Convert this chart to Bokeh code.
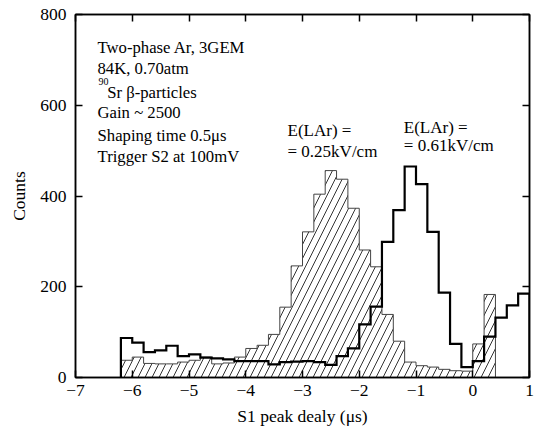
from bokeh.plotting import figure
from bokeh.models import LinearAxis, FixedTicker, Range1d
from bokeh.core.properties import value
from bokeh.embed import file_html
from bokeh.resources import INLINE

# ---- data ----
bin_start = -6.2
bin_width = 0.2
# E(LAr)=0.25 kV/cm (hatched histogram), bins from -6.2 to 0.4 us
hatched_counts = [38, 45, 31, 30, 30, 34, 38, 45, 30, 32,
                  45, 64, 71, 95, 155, 246, 321, 404, 456, 437,
                  373, 281, 244, 139, 80, 34, 26, 23, 18, 15,
                  14, 74, 183]
# E(LAr)=0.61 kV/cm (bold line histogram), bins from -6.2 to 1.0 us
bold_counts = [87, 77, 56, 60, 70, 47, 51, 44, 42, 40,
               36, 36, 36, 29, 34, 35, 36, 34, 28, 47,
               64, 117, 156, 299, 369, 465, 426, 321, 187, 74,
               23, 36, 90, 132, 159, 185]
x_ticks = [-7, -6, -5, -4, -3, -2, -1, 0, 1]
y_ticks = [0, 200, 400, 600, 800]

info_lines = ["Two-phase Ar, 3GEM", "84K, 0.70atm", "Sr \u03b2-particles",
              "Gain ~ 2500", "Shaping time 0.5\u03bcs", "Trigger S2 at 100mV"]
field_labels = ["E(LAr) =", "= 0.25kV/cm", "E(LAr) =", "= 0.61kV/cm"]


def step_path(counts):
    xs, ys = [bin_start], [0]
    r = bin_start
    for i, c in enumerate(counts):
        l = round(bin_start + i * bin_width, 6)
        r = round(l + bin_width, 6)
        xs += [l, r]
        ys += [c, c]
    xs.append(r)
    ys.append(0)
    return xs, ys


FONT = "Liberation Serif"

p = figure(width=536, height=430, x_range=Range1d(-7, 1), y_range=Range1d(0, 800),
           output_backend="svg", toolbar_location=None,
           min_border_left=75, min_border_right=7, min_border_top=14, min_border_bottom=53)
p.xgrid.visible = False
p.ygrid.visible = False
p.outline_line_color = "black"
p.outline_line_width = 1.5
p.background_fill_color = "white"

top_axis = LinearAxis(ticker=FixedTicker(ticks=x_ticks),
                      major_label_overrides={t: "" for t in x_ticks})
right_axis = LinearAxis(ticker=FixedTicker(ticks=y_ticks),
                        major_label_overrides={t: "" for t in y_ticks})
p.add_layout(top_axis, "above")
p.add_layout(right_axis, "right")

bottom_axis = p.below[0]
left_axis = p.left[0]
bottom_axis.ticker = FixedTicker(ticks=x_ticks)
left_axis.ticker = FixedTicker(ticks=y_ticks)

for ax in [bottom_axis, left_axis, top_axis, right_axis]:
    ax.major_tick_in = 7
    ax.major_tick_out = 0
    ax.minor_tick_in = 0
    ax.minor_tick_out = 0
    ax.axis_line_color = "black"
    ax.axis_line_width = 1.5
    ax.major_tick_line_color = "black"
    ax.major_tick_line_width = 1.5
    ax.major_label_text_font = FONT
    ax.major_label_text_font_size = "17.5px"
    ax.major_label_text_color = "black"
    ax.axis_label_text_font = FONT
    ax.axis_label_text_font_size = "17.5px"
    ax.axis_label_text_font_style = "normal"
    ax.axis_label_text_color = "black"

for ax in [top_axis, right_axis]:
    ax.major_label_standoff = 0

bottom_axis.major_label_standoff = 7
bottom_axis.axis_label = "S1 peak dealy (\u03bcs)"
bottom_axis.axis_label_standoff = 7
left_axis.major_label_standoff = 9
left_axis.axis_label = "Counts"
left_axis.axis_label_standoff = 8

# hatched histogram
hx, hy = step_path(hatched_counts)
p.patch(hx, hy, fill_color=None, line_color="#444444", line_width=1,
        hatch_pattern="/", hatch_color="#333333", hatch_weight=1, hatch_scale=14)

# bold histogram
bx, by = step_path(bold_counts)
p.line(bx, by, line_color="black", line_width=2.2, line_join="miter")

# info text
info_x = [-6.612, -6.612, -6.442, -6.612, -6.612, -6.612]
info_y = [728, 680, 629, 583, 534, 488]
p.text(x=info_x, y=info_y, text=info_lines, text_font=value(FONT),
       text_font_size=value("16.7px"), text_color="black", text_baseline="alphabetic")
p.text(x=[-6.595], y=[652], text=["90"], text_font=value(FONT),
       text_font_size=value("10px"), text_color="black", text_baseline="alphabetic")

# field labels
p.text(x=[-3.264, -3.264, -1.215, -1.215], y=[544, 497, 552, 511], text=field_labels,
       text_font=value(FONT), text_font_size=value("17px"), text_color="black",
       text_baseline="alphabetic")

open("out.html", "w").write(file_html(p, INLINE))
